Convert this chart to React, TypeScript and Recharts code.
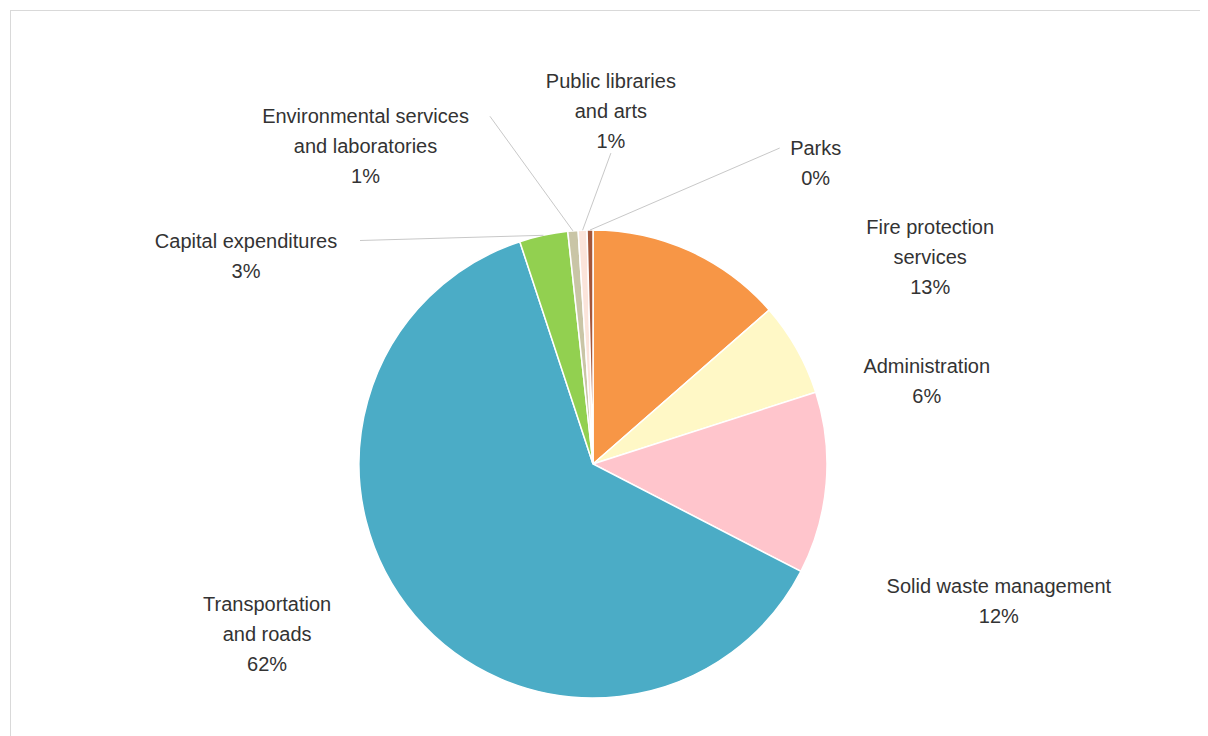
import { PieChart, Pie, Cell } from "recharts"

// slices run clockwise from 12 o'clock, same order as the sheet
const categories = [
  "Fire protection\nservices",
  "Administration",
  "Solid waste management",
  "Transportation\nand roads",
  "Capital expenditures",
  "Environmental services\nand laboratories",
  "Public libraries\nand arts",
  "Parks",
]
const shares = [13.4, 6.4, 12.4, 61.6, 3.3, 0.7, 0.6, 0.4]
const sliceColors = ["#F79646", "#FFF8C6", "#FFC5CC", "#4BACC6", "#92D050", "#C9C5A6", "#FBE4DA", "#A5573A"]

// where each data label sits: angle clockwise from 12 o'clock, distance as a share of the radius
const labelAngles = [58.5, 76, 108.6, 242.5, 301, 324.4, 2.9, 36.5]
const labelRadii = [1.69, 1.47, 1.83, 1.57, 1.73, 1.67, 1.51, 1.6]

const data = categories.map((name, i) => ({ name, value: shares[i] }))

const RADIAN = Math.PI / 180
const FONT = 20
const LINE = 30

function SliceLabel(props: any) {
  const { cx, cy, midAngle, outerRadius, index, value } = props
  const a = (90 - labelAngles[index]) * RADIAN
  const r = outerRadius * labelRadii[index]
  const x = cx + r * Math.cos(a)
  const y = cy - r * Math.sin(a)
  const lines = [...categories[index].split("\n"), `${Math.round(value)}%`]
  const top = y - ((lines.length - 1) * LINE) / 2

  let leader = null
  if (value < 4) {
    const ex = cx + outerRadius * Math.cos(-midAngle * RADIAN)
    const ey = cy + outerRadius * Math.sin(-midAngle * RADIAN)
    const half = (Math.max(...lines.map((l) => l.length)) * FONT * 0.26)
    const side = ex > x ? 1 : -1
    const sx = Math.abs(ex - x) < half ? x : x + side * (half + 10)
    const sy = Math.abs(ex - x) < half ? top + (lines.length - 1) * LINE + 12 : top
    leader = <line x1={sx} y1={sy} x2={ex} y2={ey} stroke="#c8c8c8" strokeWidth={1} />
  }

  return (
    <g>
      {leader}
      <text x={x} y={top} textAnchor="middle" dominantBaseline="central" fill="#333" fontSize={FONT} fontFamily="Liberation Sans, Arial, sans-serif">
        {lines.map((l, i) => (
          <tspan key={i} x={x} y={top + i * LINE}>
            {l}
          </tspan>
        ))}
      </text>
    </g>
  )
}

export default function App() {
  return (
    <div style={{ width: 1210, height: 740, marginLeft: 2, marginTop: 2, border: "1px solid #d9d9d9", background: "#fff" }}>
      <PieChart width={1210} height={740}>
        <Pie
          data={data}
          dataKey="value"
          nameKey="name"
          cx={577}
          cy={448}
          outerRadius={234}
          startAngle={90}
          endAngle={-270}
          stroke="#ffffff"
          strokeWidth={1.5}
          label={SliceLabel}
          labelLine={false}
          isAnimationActive={false}
        >
          {data.map((d, i) => (
            <Cell key={d.name} fill={sliceColors[i]} />
          ))}
        </Pie>
      </PieChart>
    </div>
  )
}
